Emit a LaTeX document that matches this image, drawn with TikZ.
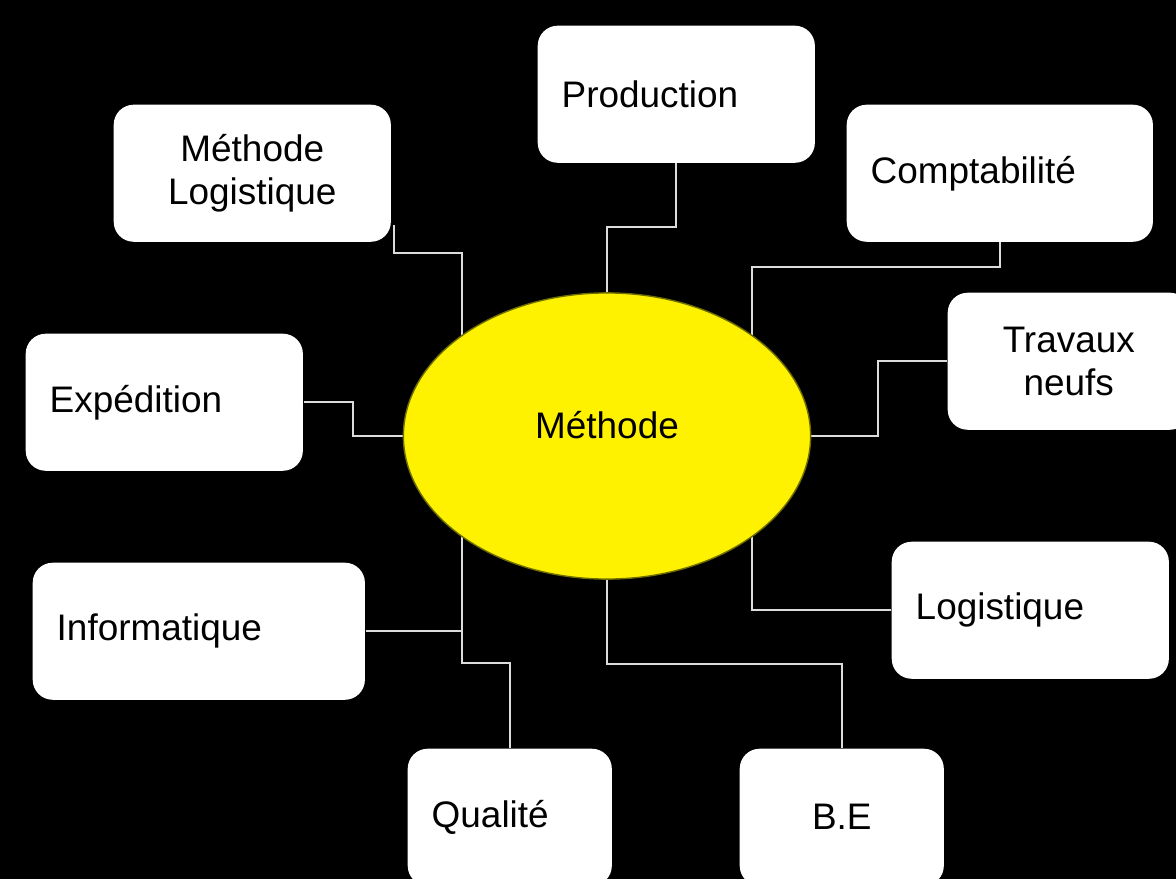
\documentclass[tikz,border=0pt]{standalone}
\usepackage{fontspec}
\setmainfont{Liberation Sans}
\usepackage{tikz}
\usetikzlibrary{shapes.geometric}
\usepackage{xcolor}
\definecolor{linkgray}{RGB}{220,220,220}
\definecolor{ellline}{RGB}{110,110,0}

\begin{document}
\begin{tikzpicture}%
  [x=0.01cm,y=-0.01cm,font=\fontsize{10.5}{12.2}\selectfont]
  \tikzstyle{box node}=[rectangle,rounded corners=0.2cm,fill=white,inner xsep=0.24cm,inner ysep=0,minimum height=1.37cm,anchor=north west]
  \tikzstyle{ell node}=[ellipse,fill=yellow,draw=ellline,line width=0.4pt,minimum width=4.07cm,minimum height=2.86cm,inner sep=0,text depth=0.22cm]
  \tikzstyle{link}=[draw=linkgray,line width=0.6pt]
  \useasboundingbox (0,0) rectangle (1176,879);
  \fill[black] (0,0) rectangle (1176,879);
  \clip (0,0) rectangle (1176,879);
  % boxes
  \node(prod)[box node,text width=2.29cm,align=left] at (537,25) {Production};
  \node(methlog)[box node,text width=2.29cm,align=center] at (113,104) {Méthode\\Logistique};
  \node(compta)[box node,text width=2.58cm,align=left] at (846,104) {Comptabilité};
  \node(travaux)[box node,text width=1.94cm,align=center] at (947,292) {Travaux\\neufs};
  \node(exped)[box node,text width=2.29cm,align=left] at (25,333) {Expédition};
  \node(logist)[box node,text width=2.29cm,align=left] at (891,541) {Logistique};
  \node(info)[box node,text width=2.84cm,align=left] at (32,562) {Informatique};
  \node(qualite)[box node,text width=1.56cm,align=left] at (407,748) {Qualité};
  \node(be)[box node,text width=1.56cm,align=center] at (739,748) {B.E};
  % links, ending under the ellipse
  \coordinate(mid) at (607,436);
  \draw[link] ([xshift=0.02cm,yshift=0.17cm]methlog.south east) |- (462,253) |- (mid);
  \draw[link] (prod.south) |- (607,227) -- (mid);
  \draw[link] (compta.south) |- (752,267) |- (mid);
  \draw[link] (travaux.west) -| (878,436) -- (mid);
  \draw[link] (exped.east) -| (353,436) -- (mid);
  \draw[link] (info.east) -| (462,436);
  \draw[link] (qualite.north) |- (462,663) |- (mid);
  \draw[link] (be.north) |- (607,664) -- (mid);
  \draw[link] (logist.west) -| (752,436);
  \node(methode)[ell node] at (mid) {Méthode};
\end{tikzpicture}
\end{document}
